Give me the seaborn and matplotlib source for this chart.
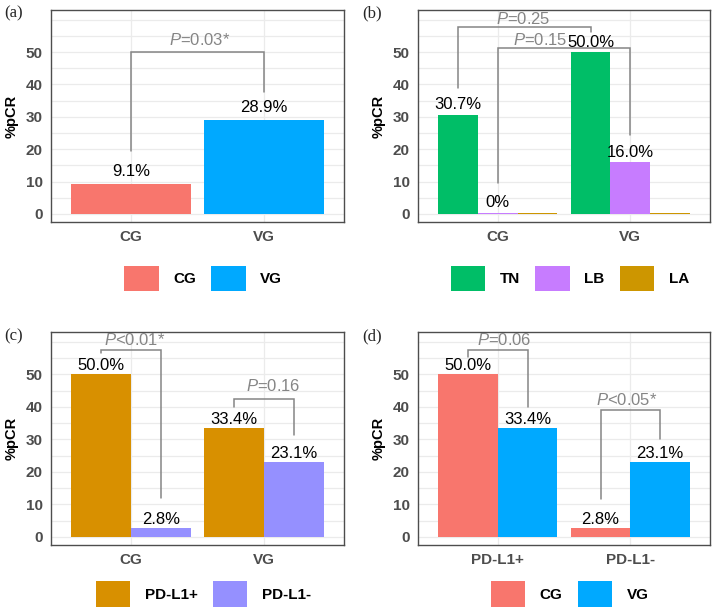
import numpy as np
import pandas as pd
import seaborn as sns
import matplotlib
matplotlib.use("Agg")
import matplotlib.pyplot as plt
from matplotlib.patches import Patch

# ---------------- data ----------------
a_groups = ["CG", "VG"]
a_values = [9.1, 28.9]
a_labels = [["9.1%"], ["28.9%"]]
a_colors = ["#F8766D", "#00A9FF"]

b_groups = ["CG", "VG"]
b_types = ["TN", "LB", "LA"]
b_TN = [30.7, 50.0]
b_LB = [0.4, 16.0]
b_LA = [0.4, 0.4]
b_labels = [["30.7%", "50.0%"], ["0%", "16.0%"], ["", ""]]
b_colors = ["#00BE67", "#C77CFF", "#CD9600"]

c_groups = ["CG", "VG"]
c_status = ["PD-L1+", "PD-L1-"]
c_pos = [50.0, 33.4]
c_neg = [2.8, 23.1]
c_labels = [["50.0%", "33.4%"], ["2.8%", "23.1%"]]
c_colors = ["#D89000", "#9590FF"]

d_status = ["PD-L1+", "PD-L1-"]
d_groups = ["CG", "VG"]
d_CG = [50.0, 2.8]
d_VG = [33.4, 23.1]
d_labels = [["50.0%", "2.8%"], ["33.4%", "23.1%"]]
d_colors = ["#F8766D", "#00A9FF"]

# brackets: (left (container, bar), right (container, bar), top, left_end, right_end, text, text_y, text_dx)
a_brackets = [((0, 0), (1, 0), 50.0, 19.5, 37.7, r"$\mathit{P}$=0.03*", 52.2, 0.02)]
b_brackets = [((0, 0), (0, 1), 57.7, 39.0, 56.2, r"$\mathit{P}$=0.25", 58.7, -0.01),
              ((1, 0), (1, 1), 51.2, 9.6, 24.4, r"$\mathit{P}$=0.15", 52.2, -0.18)]
c_brackets = [((0, 0), (1, 0), 57.4, 56.6, 12.1, r"$\mathit{P}$<0.01*", 59.0, 0.03),
              ((0, 1), (1, 1), 42.3, 40.0, 31.2, r"$\mathit{P}$=0.16", 44.9, 0.07)]
d_brackets = [((0, 0), (1, 0), 57.4, 55.3, 40.0, r"$\mathit{P}$=0.06", 59.0, 0.05),
              ((0, 1), (1, 1), 38.9, 11.7, 30.2, r"$\mathit{P}$<0.05*", 40.7, -0.03)]

y_ticks = [0, 10, 20, 30, 40, 50]
y_minor = [5, 15, 25, 35, 45, 55, 60]

# ---------------- style ----------------
sns.set_style("white")
plt.rcParams["font.family"] = ["Liberation Sans", "DejaVu Sans"]
plt.rcParams["mathtext.fontset"] = "custom"
plt.rcParams["mathtext.rm"] = "Liberation Sans"
plt.rcParams["mathtext.it"] = "Liberation Sans:italic"

GRID = "#EBEBEB"
BORDER = "#4D4D4D"
TICKTXT = "#4D4D4D"
BRK = "#858585"

fig = plt.figure(figsize=(7.17, 6.15), dpi=100)
W, H = 717, 615
axA = fig.add_axes([51 / W, 1 - 222 / H, 293 / W, 212 / H])
axB = fig.add_axes([418 / W, 1 - 222 / H, 292 / W, 212 / H])
axC = fig.add_axes([51 / W, 1 - 545 / H, 293 / W, 213 / H])
axD = fig.add_axes([418 / W, 1 - 545 / H, 292 / W, 213 / H])

common = dict(width=0.9, errorbar=None, linewidth=0, legend=False, saturation=1)

dfA = pd.DataFrame({"group": a_groups, "value": a_values})
sns.barplot(data=dfA, x="group", y="value", hue="group", hue_order=a_groups,
            palette=dict(zip(a_groups, a_colors)), ax=axA, **common)

dfB = pd.DataFrame({"group": b_groups * 3, "type": np.repeat(b_types, 2),
                    "value": b_TN + b_LB + b_LA})
sns.barplot(data=dfB, x="group", y="value", hue="type", hue_order=b_types,
            palette=dict(zip(b_types, b_colors)), ax=axB, **common)

dfC = pd.DataFrame({"group": c_groups * 2, "status": np.repeat(c_status, 2),
                    "value": c_pos + c_neg})
sns.barplot(data=dfC, x="group", y="value", hue="status", hue_order=c_status,
            palette=dict(zip(c_status, c_colors)), ax=axC, **common)

dfD = pd.DataFrame({"status": d_status * 2, "group": np.repeat(d_groups, 2),
                    "value": d_CG + d_VG})
sns.barplot(data=dfD, x="status", y="value", hue="group", hue_order=d_groups,
            palette=dict(zip(d_groups, d_colors)), ax=axD, **common)


def center(ax, ref):
    ci, bi = ref
    bar = ax.containers[ci][bi]
    return bar.get_x() + bar.get_width() / 2


def style(ax, labels, brackets, leg_names, leg_colors, leg_y, label_off):
    ax.set_xlim(-0.6, 1.6)
    ax.set_ylim(-2.5, 63)
    ax.set_yticks(y_ticks)
    ax.set_yticks(y_minor, minor=True)
    ax.set_xlabel("")
    ax.set_ylabel("%pCR", fontsize=10.5, fontweight="bold", color="black", labelpad=5)
    ax.set_axisbelow(True)
    ax.grid(True, axis="y", which="both", color=GRID, lw=0.9)
    ax.grid(True, axis="x", which="major", color=GRID, lw=0.9)
    ax.tick_params(axis="both", which="major", length=3, width=1.0, color="#333333",
                   labelsize=11, labelcolor=TICKTXT, pad=3)
    ax.tick_params(axis="y", which="minor", length=0)
    for t in ax.get_xticklabels() + ax.get_yticklabels():
        t.set_fontweight("bold")
    for s in ax.spines.values():
        s.set_visible(True)
        s.set_color(BORDER)
        s.set_linewidth(1.0)
    # value labels
    for ci, cont in enumerate(ax.containers):
        for bi, bar in enumerate(cont):
            txt = labels[ci][bi]
            if not txt:
                continue
            ax.annotate(txt, (bar.get_x() + bar.get_width() / 2, bar.get_height()),
                        xytext=(0, label_off), textcoords="offset points",
                        ha="center", va="baseline", fontsize=12, color="black")
    # brackets
    for left, right, top, lend, rend, txt, ty, dx in brackets:
        x1, x2 = center(ax, left), center(ax, right)
        ax.plot([x1, x1, x2, x2], [lend, top, top, rend], color=BRK, lw=1.1,
                solid_joinstyle="miter", clip_on=False)
        ax.text((x1 + x2) / 2 + dx, ty, txt, ha="center", va="baseline",
                fontsize=12, color=BRK)
    handles = [Patch(facecolor=c, edgecolor="none") for c in leg_colors]
    leg = ax.legend(handles, leg_names, loc="center", bbox_to_anchor=(0.52, leg_y),
                    ncol=len(leg_names), frameon=False, handlelength=2.25,
                    handleheight=2.2, handletextpad=0.95, columnspacing=1.0,
                    prop={"weight": "bold", "size": 11})
    for t in leg.get_texts():
        t.set_color("black")


style(axA, a_labels, a_brackets, a_groups, a_colors, -0.266, 6)
style(axB, b_labels, b_brackets, b_types, b_colors, -0.266, 4)
style(axC, c_labels, c_brackets, c_status, c_colors, -0.23, 3)
style(axD, d_labels, d_brackets, d_groups, d_colors, -0.23, 3)

for lbl, x, y in [("(a)", 4, 5), ("(b)", 362, 5), ("(c)", 4, 328), ("(d)", 362, 328)]:
    fig.text(x / W, 1 - y / H, lbl, ha="left", va="top", fontsize=12,
             family=["Liberation Serif", "DejaVu Serif"])

fig.savefig("out.png", dpi=100)
